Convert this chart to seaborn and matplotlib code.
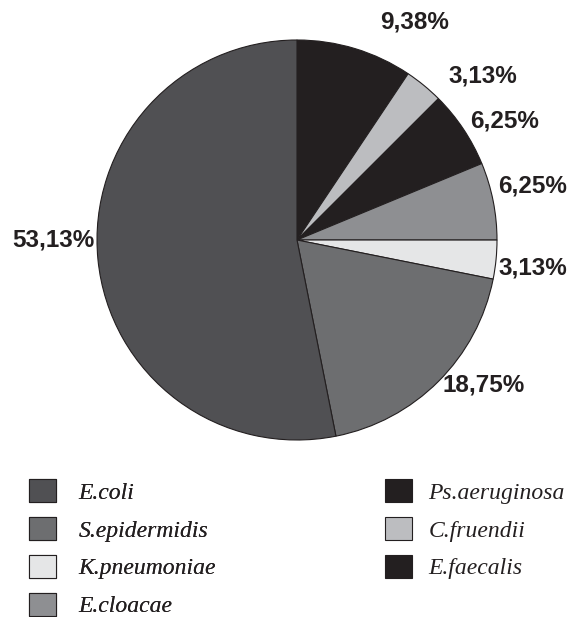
import matplotlib
matplotlib.use("Agg")
import matplotlib.pyplot as plt
import matplotlib.patches as mpatches
import seaborn as sns

# data (clockwise from 12 o'clock)
species = ["Ps.aeruginosa", "C.fruendii", "E.faecalis", "E.cloacae",
           "K.pneumoniae", "S.epidermidis", "E.coli"]
percent = [9.38, 3.13, 6.25, 6.25, 3.13, 18.75, 53.13]
pct_labels = ["9,38%", "3,13%", "6,25%", "6,25%", "3,13%", "18,75%", "53,13%"]
colors = ["#231f20", "#bcbdc0", "#231f20", "#8e8f92",
          "#e5e6e7", "#6d6e70", "#505053"]

# legend order
legend_left = ["E.coli", "S.epidermidis", "K.pneumoniae", "E.cloacae"]
legend_right = ["Ps.aeruginosa", "C.fruendii", "E.faecalis"]

# label positions (in pie-radius units relative to centre)
label_pos = [(0.59, 1.09), (0.93, 0.82), (1.04, 0.595), (1.18, 0.27),
             (1.18, -0.14), (0.935, -0.725), (-1.22, 0.0)]

sns.set_theme(style="white")
W, H = 570, 617
fig = plt.figure(figsize=(W / 100, H / 100), dpi=100)
cx, cy, r = 297, 240, 200
ax = fig.add_axes([(cx - r) / W, (H - cy - r) / H, 2 * r / W, 2 * r / H])
ax.pie(percent, colors=colors, startangle=90, counterclock=False, radius=1,
       wedgeprops=dict(edgecolor="#231f20", linewidth=0.8))
ax.set_xlim(-1, 1)
ax.set_ylim(-1, 1)
ax.set_aspect("equal")
ax.axis("off")

for lab, (x, y) in zip(pct_labels, label_pos):
    ax.text(x, y, lab, ha="center", va="center", fontsize=17.5,
            fontweight="bold", family=["Liberation Sans", "DejaVu Sans"],
            color="#231f20", clip_on=False)

cmap = dict(zip(species, colors))

def make_legend(names, x_px, y_px, pad):
    handles = [mpatches.Patch(facecolor=cmap[n], edgecolor="#231f20", linewidth=0.8)
               for n in names]
    leg = fig.legend(handles, names, loc="upper left",
                     bbox_to_anchor=(x_px / W, 1 - y_px / H),
                     frameon=False, borderpad=0, borderaxespad=0,
                     handlelength=1.14, handleheight=1.14, handletextpad=pad,
                     labelspacing=0.56,
                     prop=dict(family="Liberation Serif", style="italic", size=17))
    for t in leg.get_texts():
        t.set_color("#231f20")
    return leg

l1 = make_legend(legend_left, 29, 479, 0.95)
fig.add_artist(l1)
make_legend(legend_right, 385, 479, 0.7)

fig.savefig("out.png", dpi=100)
